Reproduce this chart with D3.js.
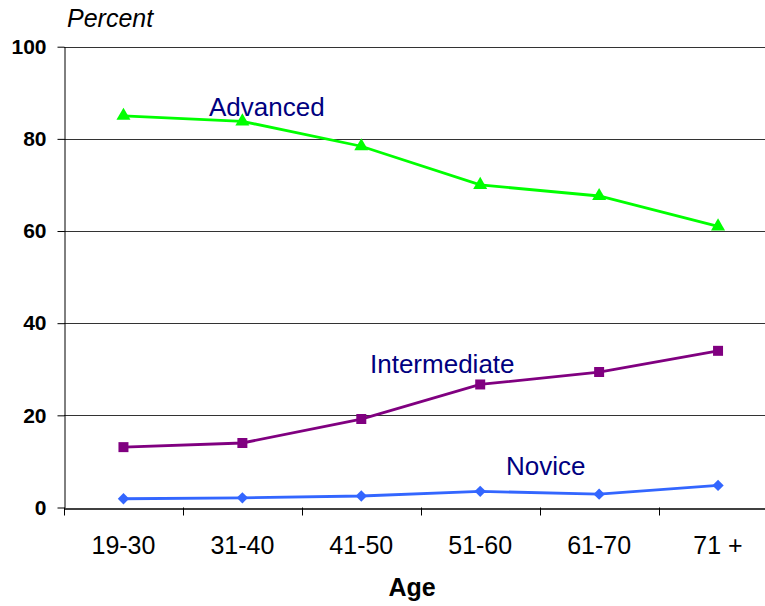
<!DOCTYPE html>
<html>
<head>
<meta charset="utf-8">
<script src="https://cdn.jsdelivr.net/npm/d3@7"></script>
<style>
  body { margin: 0; background: #fff; }
  svg { display: block; font-family: "Liberation Sans", Arial, sans-serif; }
</style>
</head>
<body>
<div id="chart-area"></div>
<script>
const ageGroups = ["19-30", "31-40", "41-50", "51-60", "61-70", "71 +"]
const advanced = [85, 83.8, 78.4, 70, 67.6, 61]
const intermediate = [13.1, 14, 19.2, 26.7, 29.4, 34]
const novice = [1.9, 2.1, 2.5, 3.5, 2.9, 4.8]
const yTicks = [0, 20, 40, 60, 80, 100]

const W = 765, H = 606

const svg = d3.select("#chart-area").append("svg")
  .attr("width", W)
  .attr("height", H)

const x = d3.scaleBand()
  .domain(ageGroups)
  .range([64, 777.5])

const y = d3.scaleLinear()
  .domain([0, 100])
  .range([507.5, 46.7])

// gridlines
svg.append("g")
  .selectAll("line")
  .data(yTicks.filter(d => d > 0))
  .join("line")
    .attr("x1", 64).attr("x2", W)
    .attr("y1", d => Math.round(y(d)) + 0.5)
    .attr("y2", d => Math.round(y(d)) + 0.5)
    .attr("stroke", "#333")
    .attr("stroke-width", 1)

// Y axis
const yAxis = svg.append("g")
  .attr("transform", "translate(64.5,0)")
  .call(d3.axisLeft(y).tickValues(yTicks).tickSize(7).tickPadding(11).tickSizeOuter(0))
yAxis.select(".domain").attr("stroke", "#000")
yAxis.selectAll(".tick line").attr("stroke", "#000")
yAxis.selectAll(".tick text")
  .attr("font-size", 21).attr("font-weight", "bold").attr("fill", "#000")
  .attr("font-family", "Liberation Sans, Arial, sans-serif")

// X axis
const xAxis = svg.append("g")
  .attr("transform", `translate(0,${Math.round(y(0)) + 0.5})`)
  .call(d3.axisBottom(x).tickSize(0).tickPadding(28))
xAxis.select(".domain").attr("stroke", "#000").attr("stroke-width", 1.5)
xAxis.selectAll(".tick text")
  .attr("font-size", 25).attr("fill", "#000")
  .attr("font-family", "Liberation Sans, Arial, sans-serif")

// category separators on x axis
svg.append("g")
  .selectAll("line")
  .data(ageGroups)
  .join("line")
    .attr("x1", d => Math.round(x(d)) + 0.5)
    .attr("x2", d => Math.round(x(d)) + 0.5)
    .attr("y1", y(0)).attr("y2", y(0) + 8)
    .attr("stroke", "#000")

// axis titles
svg.append("text")
  .attr("x", 67).attr("y", 27)
  .attr("font-size", 25).attr("font-style", "italic")
  .text("Percent")

svg.append("text")
  .attr("x", 412).attr("y", 596)
  .attr("text-anchor", "middle")
  .attr("font-size", 25).attr("font-weight", "bold")
  .text("Age")

const cx = (d, i) => x(ageGroups[i]) + x.bandwidth() / 2

const series = [
  { name: "Advanced", values: advanced, color: "#00ff00", symbol: d3.symbolTriangle, size: 85, rot: 0, lx: 209, ly: 116 },
  { name: "Intermediate", values: intermediate, color: "#800080", symbol: d3.symbolSquare, size: 100, rot: 0, lx: 370, ly: 373 },
  { name: "Novice", values: novice, color: "#3366ff", symbol: d3.symbolSquare, size: 64, rot: 45, lx: 506, ly: 475 }
]

const line = d3.line()
  .x(cx)
  .y(d => y(d))

series.forEach(s => {
  svg.append("path")
    .datum(s.values)
    .attr("d", line)
    .attr("fill", "none")
    .attr("stroke", s.color)
    .attr("stroke-width", 2.8)

  svg.selectAll(null)
    .data(s.values)
    .join("path")
      .attr("transform", (d, i) => `translate(${cx(d, i)},${y(d)}) rotate(${s.rot})`)
      .attr("d", d3.symbol().type(s.symbol).size(s.size))
      .attr("fill", s.color)

  svg.append("text")
    .attr("x", s.lx).attr("y", s.ly)
    .attr("font-size", 26)
    .attr("fill", "#000080")
    .text(s.name)
})
</script>
</body>
</html>
